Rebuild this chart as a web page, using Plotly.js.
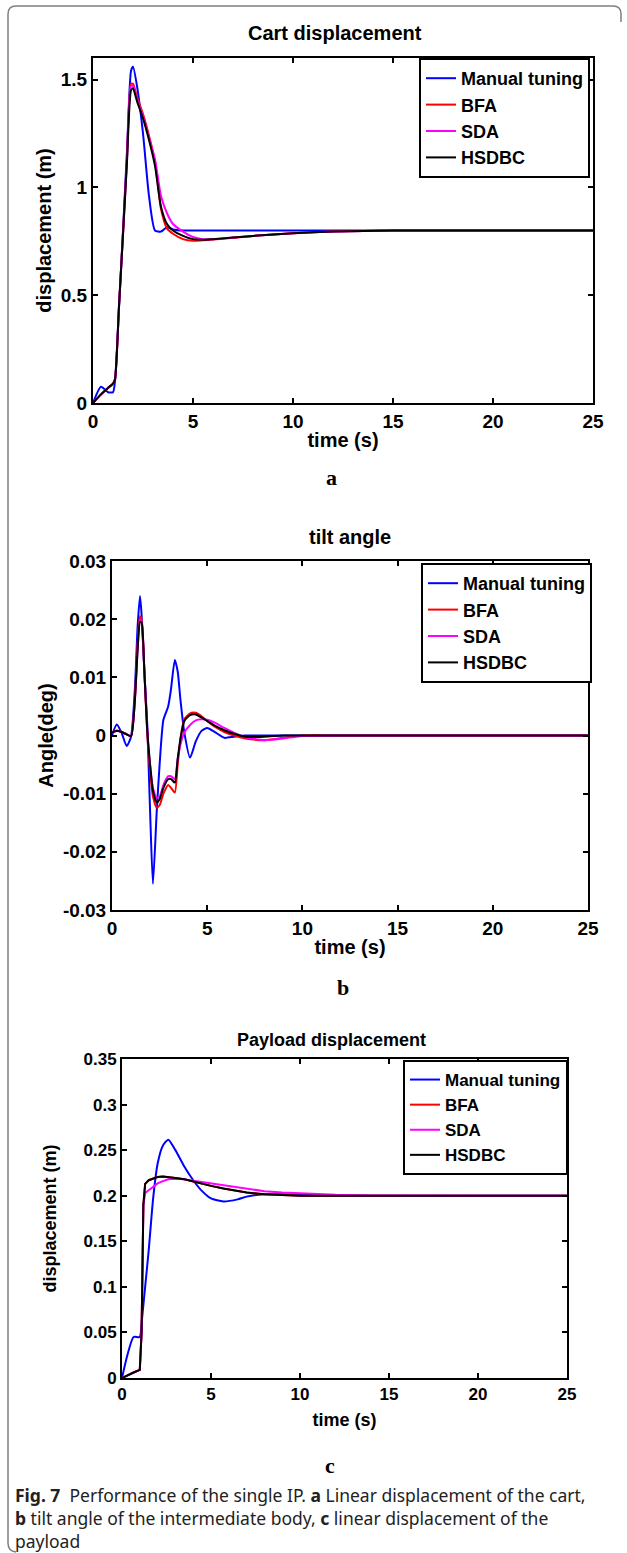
<!DOCTYPE html>
<html>
<head>
<meta charset="utf-8">
<script src="https://cdn.plot.ly/plotly-3.0.1.min.js"></script>
<style>
  html, body { margin: 0; padding: 0; background: #ffffff; }
  #chart { width: 627px; height: 1553px; }
</style>
</head>
<body>
<div id="chart"></div>
<script>
// ---------------- DATA ----------------
const seriesNames = ["Manual tuning", "BFA", "SDA", "HSDBC"];

// Panel a: Cart displacement (m)
const timeA = [0, 0.4, 0.75, 1.0, 1.1, 1.3, 1.5, 1.7, 1.9, 2.0, 2.2, 2.5, 2.8, 3.1, 3.4, 3.7, 4.0, 4.5, 5.0, 5.5, 6, 7, 8, 10, 12, 15, 20, 25];
const cartManual = [0, 0.075, 0.05, 0.05, 0.10, 0.44, 0.80, 1.17, 1.54, 1.56, 1.47, 1.25, 0.96, 0.80, 0.795, 0.815, 0.805, 0.80, 0.80, 0.80, 0.80, 0.80, 0.80, 0.80, 0.80, 0.80, 0.80, 0.80];
const cartBFA    = [0, 0.04, 0.07, 0.09, 0.11, 0.45, 0.79, 1.14, 1.48, 1.48, 1.42, 1.34, 1.24, 1.12, 0.90, 0.81, 0.785, 0.76, 0.752, 0.755, 0.758, 0.766, 0.775, 0.787, 0.795, 0.80, 0.80, 0.80];
const cartSDA    = [0, 0.04, 0.07, 0.09, 0.11, 0.45, 0.78, 1.13, 1.47, 1.47, 1.41, 1.33, 1.23, 1.13, 0.96, 0.88, 0.83, 0.795, 0.77, 0.76, 0.76, 0.767, 0.775, 0.787, 0.795, 0.80, 0.80, 0.80];
const cartHSDBC  = [0, 0.04, 0.07, 0.09, 0.11, 0.45, 0.78, 1.12, 1.45, 1.46, 1.40, 1.32, 1.22, 1.10, 0.91, 0.83, 0.80, 0.775, 0.76, 0.757, 0.76, 0.767, 0.775, 0.787, 0.795, 0.80, 0.80, 0.80];

// Panel b: tilt angle (deg)
const timeB = [0, 0.25, 0.5, 0.77, 1.0, 1.2, 1.35, 1.47, 1.55, 1.7, 1.85, 2.0, 2.15, 2.35, 2.5, 2.7, 2.95, 3.1, 3.3, 3.45, 3.6, 3.8, 4.1, 4.4, 4.7, 5.0, 5.4, 5.9, 6.4, 7, 8, 9, 10, 12, 15, 20, 25];
const tiltManual = [0, 0.0019, 0.0005, -0.0018, -0.0002, 0.008, 0.019, 0.024, 0.021, 0.011, 0.002, -0.013, -0.0255, -0.013, -0.005, 0.0027, 0.005, 0.008, 0.013, 0.011, 0.006, 0.0005, -0.0038, -0.001, 0.0008, 0.0013, 0.0006, -0.0004, -0.0002, 0, 0, 0, 0, 0, 0, 0, 0];
const tiltBFA    = [0.0005, 0.0008, 0.0006, 0.0002, -0.0001, 0.0065, 0.016, 0.0205, 0.020, 0.011, 0.0005, -0.006, -0.0105, -0.0124, -0.012, -0.010, -0.0085, -0.009, -0.0098, -0.005, -0.0005, 0.0028, 0.0038, 0.0039, 0.0033, 0.0025, 0.0015, 0.0006, 0, -0.0005, -0.0008, -0.0004, 0, 0, 0, 0, 0];
const tiltSDA    = [0.0005, 0.0008, 0.0006, 0.0002, -0.0001, 0.006, 0.015, 0.0198, 0.0197, 0.011, 0.001, -0.005, -0.009, -0.0107, -0.0105, -0.0085, -0.007, -0.007, -0.0075, -0.004, -0.0015, 0.0005, 0.0018, 0.0026, 0.0028, 0.0027, 0.0022, 0.0013, 0.0005, -0.0003, -0.0008, -0.0005, -0.0001, 0, 0, 0, 0];
const tiltHSDBC  = [0.0005, 0.0008, 0.0006, 0.0002, -0.0001, 0.006, 0.015, 0.0195, 0.0195, 0.011, 0.001, -0.005, -0.0095, -0.0115, -0.011, -0.009, -0.0075, -0.0075, -0.0081, -0.004, -0.0005, 0.0025, 0.0035, 0.0036, 0.0031, 0.0025, 0.0017, 0.0009, 0.0003, -0.0002, -0.0002, 0, 0, 0, 0, 0, 0];

// Panel c: Payload displacement (m)
const timeC = [0, 0.3, 0.65, 1.0, 1.1, 1.2, 1.3, 1.5, 1.75, 2.0, 2.3, 2.6, 3.0, 3.5, 4.0, 4.5, 5.0, 5.7, 6.5, 7.0, 8.0, 9, 10, 11, 12, 14, 16, 20, 25];
const payManual = [0, 0.025, 0.045, 0.045, 0.06, 0.08, 0.10, 0.14, 0.197, 0.235, 0.255, 0.2615, 0.25, 0.232, 0.217, 0.205, 0.197, 0.1937, 0.196, 0.199, 0.2015, 0.2015, 0.201, 0.2005, 0.2, 0.2, 0.2, 0.2, 0.2];
const payBFA    = [0, 0.003, 0.006, 0.009, 0.05, 0.19, 0.213, 0.217, 0.219, 0.2205, 0.221, 0.2205, 0.2195, 0.218, 0.2155, 0.213, 0.2108, 0.208, 0.205, 0.2035, 0.2015, 0.2005, 0.2, 0.2, 0.2, 0.2, 0.2, 0.2, 0.2];
const paySDA    = [0, 0.003, 0.006, 0.009, 0.05, 0.19, 0.203, 0.206, 0.210, 0.2135, 0.216, 0.218, 0.2185, 0.218, 0.2165, 0.215, 0.2135, 0.2115, 0.209, 0.2075, 0.205, 0.2035, 0.2025, 0.2015, 0.201, 0.2003, 0.2, 0.2, 0.2];
const payHSDBC  = [0, 0.003, 0.006, 0.009, 0.05, 0.19, 0.213, 0.217, 0.219, 0.2205, 0.221, 0.2205, 0.2195, 0.218, 0.2155, 0.213, 0.2108, 0.208, 0.205, 0.2035, 0.2015, 0.2005, 0.2, 0.2, 0.2, 0.2, 0.2, 0.2, 0.2];

const xTicks = [0, 5, 10, 15, 20, 25];
const yTicksA = [0, 0.5, 1, 1.5];
const yTickTextA = ["0", "0.5", "1", "1.5"];
const yTicksB = [-0.03, -0.02, -0.01, 0, 0.01, 0.02, 0.03];
const yTickTextB = ["-0.03", "-0.02", "-0.01", "0", "0.01", "0.02", "0.03"];
const yTicksC = [0, 0.05, 0.1, 0.15, 0.2, 0.25, 0.3, 0.35];
const yTickTextC = ["0", "0.05", "0.1", "0.15", "0.2", "0.25", "0.3", "0.35"];

// ---------------- STYLE ----------------
const W = 627, H = 1553;
const px = v => v / W;
const py = v => 1 - v / H;
const colors = ["#0000ff", "#ff0000", "#ff00ff", "#000000"];
const FONT = "Liberation Sans, Arial, Helvetica, sans-serif";

function mk(x, y, i, xa, ya, leg, shape) {
  return {
    x: x, y: y, type: "scatter", mode: "lines",
    name: seriesNames[i], xaxis: xa, yaxis: ya, legend: leg,
    line: { color: colors[i], width: 2, shape: shape || "spline", smoothing: 0.6 },
    hoverinfo: "skip"
  };
}

const data = [
  mk(timeA, cartManual, 0, "x", "y", "legend"),
  mk(timeA, cartBFA, 1, "x", "y", "legend"),
  mk(timeA, cartSDA, 2, "x", "y", "legend"),
  mk(timeA, cartHSDBC, 3, "x", "y", "legend"),
  mk(timeB, tiltManual, 0, "x2", "y2", "legend2"),
  mk(timeB, tiltBFA, 1, "x2", "y2", "legend2"),
  mk(timeB, tiltSDA, 2, "x2", "y2", "legend2"),
  mk(timeB, tiltHSDBC, 3, "x2", "y2", "legend2"),
  mk(timeC, payManual, 0, "x3", "y3", "legend3"),
  mk(timeC, payBFA, 1, "x3", "y3", "legend3", "linear"),
  mk(timeC, paySDA, 2, "x3", "y3", "legend3", "linear"),
  mk(timeC, payHSDBC, 3, "x3", "y3", "legend3", "linear")
];

function xaxis(dom, anchor, fs, tfs, so) {
  return {
    domain: dom, anchor: anchor, range: [0, 25], tickvals: xTicks,
    ticks: "inside", ticklen: 5, tickwidth: 2, tickcolor: "#000",
    showline: true, linewidth: 2, linecolor: "#000", mirror: "ticks",
    showgrid: false, zeroline: false,
    tickfont: { family: FONT, size: fs, color: "#000", weight: "bold" },
    title: { text: "time (s)", font: { family: FONT, size: tfs, color: "#000", weight: "bold" }, standoff: so }
  };
}
function yaxis(dom, anchor, rng, tv, tt, title, fs, tfs, so) {
  return {
    domain: dom, anchor: anchor, range: rng, tickvals: tv, ticktext: tt,
    ticks: "inside", ticklen: 5, tickwidth: 2, tickcolor: "#000",
    showline: true, linewidth: 2, linecolor: "#000", mirror: "ticks",
    showgrid: false, zeroline: false,
    tickfont: { family: FONT, size: fs, color: "#000", weight: "bold" },
    title: { text: title, font: { family: FONT, size: tfs, color: "#000", weight: "bold" }, standoff: so }
  };
}
function legend(xr, yt, fs) {
  return {
    x: px(xr), xanchor: "right", y: py(yt), yanchor: "top",
    bgcolor: "#ffffff", bordercolor: "#000", borderwidth: 2,
    font: { family: FONT, size: fs, color: "#000", weight: "bold" },
    tracegroupgap: 0
  };
}
function ann(text, xc, yc, fs, opts) {
  return Object.assign({
    text: text, xref: "paper", yref: "paper", x: px(xc), y: py(yc),
    xanchor: "center", yanchor: "middle", showarrow: false,
    font: { family: FONT, size: fs, color: "#000", weight: "bold" }
  }, opts || {});
}

const SERIF = "Liberation Serif, Times New Roman, serif";
const CAP = "Noto Sans, Open Sans, sans-serif";
const capOpts = { xanchor: "left", borderpad: 0, font: { family: CAP, size: 17.5, color: "#222" } };
const letterOpts = { borderpad: 0, font: { family: SERIF, size: 22, color: "#000", weight: "bold" } };

// frame path (rounded corners)
const framePath = `M ${px(621)} ${py(22)} L ${px(621)} ${py(14)} Q ${px(621)} ${py(6)} ${px(613)} ${py(6)} ` +
  `L ${px(16)} ${py(6)} Q ${px(8)} ${py(6)} ${px(8)} ${py(14)} L ${px(8)} ${py(1543)} Q ${px(8)} ${py(1551)} ${px(16)} ${py(1552)}`;

const layout = {
  width: W, height: H,
  margin: { l: 0, r: 0, t: 0, b: 0 },
  paper_bgcolor: "#ffffff", plot_bgcolor: "#ffffff",
  showlegend: true,
  xaxis: xaxis([px(93), px(593)], "y", 19, 20, 2),
  yaxis: yaxis([py(403), py(58)], "x", [0, 1.6], yTicksA, yTickTextA, "displacement (m)", 19, 20, 4),
  xaxis2: xaxis([px(112), px(588)], "y2", 19, 20, 2),
  yaxis2: yaxis([py(910), py(561)], "x2", [-0.03, 0.03], yTicksB, yTickTextB, "Angle(deg)", 19, 20, 4),
  xaxis3: xaxis([px(122), px(567)], "y3", 17, 18, 10),
  yaxis3: yaxis([py(1378), py(1059)], "x3", [0, 0.35], yTicksC, yTickTextC, "displacement (m)", 17, 18, 22),
  legend: legend(590, 58, 18),
  legend2: legend(592, 563, 18),
  legend3: legend(568, 1060, 17),
  shapes: [
    { type: "path", xref: "paper", yref: "paper", path: framePath,
      line: { color: "#7f7f7f", width: 1.5 }, fillcolor: "rgba(0,0,0,0)" }
  ],
  annotations: [
    ann("Cart displacement", 335, 33, 20),
    ann("tilt angle", 350, 537, 20),
    ann("Payload displacement", 331, 1040, 18),
    ann("a", 331, 477, 22, letterOpts),
    ann("b", 343, 987, 22, letterOpts),
    ann("c", 330, 1465, 22, letterOpts),
    ann("<b>Fig. 7</b>  Performance of the single IP. <b>a</b> Linear displacement of the cart,", 14, 1495, 17.5, capOpts),
    ann("<b>b</b> tilt angle of the intermediate body, <b>c</b> linear displacement of the", 14, 1518, 17.5, capOpts),
    ann("payload", 14, 1541, 17.5, capOpts)
  ]
};

Plotly.newPlot("chart", data, layout, { staticPlot: true, displayModeBar: false });
</script>
</body>
</html>
